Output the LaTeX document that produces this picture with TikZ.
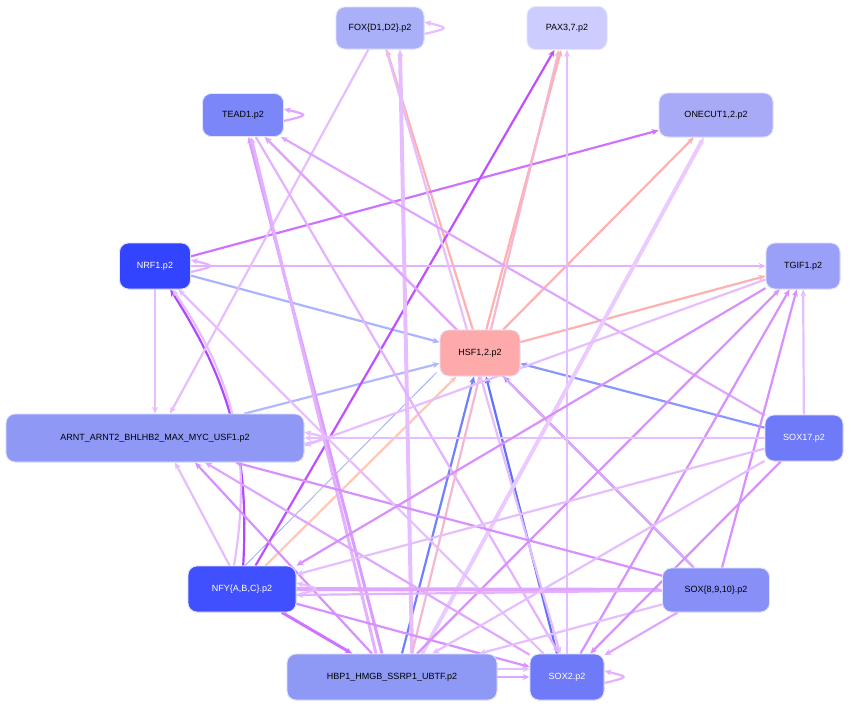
\documentclass[tikz,border=0pt]{standalone}
\usepackage{fontspec}
\setmainfont{Liberation Sans}
\usetikzlibrary{arrows.meta}
\definecolor{pk}{HTML}{FFB0B0}
\definecolor{lp}{HTML}{E6BEFF}
\definecolor{mp}{HTML}{D890FF}
\definecolor{sp}{HTML}{C050FF}
\definecolor{bA}{RGB}{170,180,255}
\definecolor{bB}{RGB}{176,184,255}
\definecolor{bC}{RGB}{255,200,180}
\definecolor{bD}{RGB}{112,128,255}
\definecolor{bE}{RGB}{96,112,255}
\definecolor{bF}{RGB}{138,150,255}
\definecolor{cfox}{RGB}{170,176,248}
\definecolor{cpax}{RGB}{204,204,255}
\definecolor{ctead}{RGB}{123,134,248}
\definecolor{cone}{RGB}{168,170,248}
\definecolor{cnrf}{RGB}{51,68,255}
\definecolor{ctgif}{RGB}{154,160,248}
\definecolor{chsf}{RGB}{255,170,170}
\definecolor{carnt}{RGB}{143,153,245}
\definecolor{cs}{RGB}{111,122,248}
\definecolor{cnfy}{RGB}{64,80,255}
\definecolor{cs89}{RGB}{136,144,248}
\definecolor{chbp}{RGB}{142,152,245}
\begin{document}
\begin{tikzpicture}[x=1pt,y=-1pt,
 n/.style={draw=blue!10,line width=0.8pt,rounded corners=9pt,minimum height=46pt,font=\fontsize{9}{10}\selectfont,inner sep=0pt},
 e/.style={line width=2.2pt,-{Stealth[length=7pt,width=6pt]}}]
\useasboundingbox (0,0) rectangle (851,707);
% edges drawn first (behind nodes) via coordinates of nodes defined later -> define nodes first in background trick: draw nodes, then edges, then redraw nodes
\begin{scope}
\node[n,fill=cfox,minimum width=88pt,minimum height=42pt] (fox) at (380,28) {FOX\{D1,D2\}.p2};
\node[n,fill=cpax,minimum width=80pt,minimum height=43pt] (pax) at (567,28) {PAX3,7.p2};
\node[n,fill=ctead,minimum width=81pt,minimum height=43pt] (tead) at (243,115) {TEAD1.p2};
\node[n,fill=cone,minimum width=114pt,minimum height=44pt] (one) at (716,115) {ONECUT1,2.p2};
\node[n,fill=cnrf,text=white,minimum width=71pt] (nrf) at (155,266) {NRF1.p2};
\node[n,fill=ctgif,minimum width=74pt] (tgif) at (803,266) {TGIF1.p2};
\node[n,fill=chsf,minimum width=80pt] (hsf) at (480,353) {HSF1,2.p2};
\node[n,fill=carnt,minimum width=298pt,minimum height=48pt] (arnt) at (155,438) {ARNT\_ARNT2\_BHLHB2\_MAX\_MYC\_USF1.p2};
\node[n,fill=cs,text=white,minimum width=78pt] (s17) at (804,438) {SOX17.p2};
\node[n,fill=cnfy,text=white,minimum width=108pt] (nfy) at (242,589) {NFY\{A,B,C\}.p2};
\node[n,fill=cs89,minimum width=107pt,minimum height=44pt] (s89) at (716,590) {SOX\{8,9,10\}.p2};
\node[n,fill=chbp,minimum width=210pt] (hbp) at (392,677) {HBP1\_HMGB\_SSRP1\_UBTF.p2};
\node[n,fill=cs,text=white,minimum width=74pt] (sox2) at (567,677) {SOX2.p2};
\end{scope}
% pink from HSF
\foreach \t in {fox,pax,tead,one,tgif}
  \draw[e,pk] (hsf) -- (\t);
% blue to HSF
\draw[e,bA] (nrf) -- (hsf);
\draw[e,bB] ([xshift=-60pt]arnt.north east) -- (hsf);
\draw[e,bC] (nfy) -- (hsf);
\draw[line width=1pt,bA] ([xshift=3pt]nfy.north) -- ([yshift=4pt,xshift=-3pt]hsf.south west);
\draw[e,bD] ([xshift=10pt]hbp.north) -- (hsf);
\draw[e,bE] ([xshift=-10pt]sox2.north) -- (hsf);
\draw[e,bD] (s89) -- (hsf);
\draw[e,bF] (s17) -- (hsf);
% strong purple
\draw[e,sp!80] (nrf) -- (one);
\draw[e,sp] (nfy) -- (pax);
\draw[e,sp!90!blue] (nfy) to[bend right=18] (nrf);
\draw[e,lp] ([xshift=-8pt]nfy.north) to[bend right=22] (nrf);
% light purple
\draw[e,mp!70] (nrf) -- (tgif);
\draw[e,lp] (nrf) -- (arnt);
\draw[e,lp] (fox) -- ([xshift=15pt]arnt.north);
\draw[e,lp] (fox) -- (sox2);
\draw[e,lp,line width=4pt] ([xshift=20pt]hbp.north) -- ([xshift=20pt]fox.south);
\draw[e,mp!80] (s17) -- (tead);
\draw[e,mp!80] (s89) -- (tead);
\draw[e,mp!90,line width=3pt] ([xshift=-10pt]hbp.north) -- (tead);
\draw[e,mp!70,line width=3pt] ([xshift=-16pt]hbp.north) -- ([xshift=8pt]tead.south);
\draw[e,mp!70] (tead) -- ([xshift=-8pt]sox2.north);
\draw[e,lp] (sox2) -- (pax);
\draw[e,pk!60!lp] ([xshift=20pt]hbp.north) -- ([xshift=-8pt]pax.south);
\draw[e,lp!80,line width=4pt] ([xshift=30pt]hbp.north) -- (one);
\draw[e,lp] (s17) -- (tgif);
\draw[e,mp] (s89) -- (tgif);
\draw[e,mp] (sox2) -- (tgif);
\draw[e,mp] ([xshift=25pt]hbp.north) -- (tgif);
\draw[e,lp] (tgif) -- ([yshift=-8pt]arnt.east);
\draw[e,lp] (s17) -- (arnt);
\draw[e,mp] (s89) -- ([xshift=80pt]arnt.south);
\draw[e,mp!80] (sox2) -- ([xshift=50pt]arnt.south);
\draw[e,lp] (nfy) -- ([xshift=20pt]arnt.south);
\draw[e,mp] ([xshift=-20pt]hbp.north) -- ([xshift=40pt]arnt.south);
\draw[e,lp] (sox2) -- (nrf);
\draw[e,mp!80,line width=4pt] (nfy) -- (s89);
\draw[e,mp!70] (s89) -- ([yshift=-6pt]nfy.east);
\draw[e,mp] (nfy) -- (sox2);
\draw[e,sp!80,line width=3pt] (nfy) -- (hbp);
\draw[e,mp!80] (s89) -- (sox2);
\draw[e,lp] (s89) -- (hbp);
\draw[e,lp] (s17) -- (nfy);
\draw[e,lp] (s17) -- (hbp);
\draw[e,mp] (s17) -- (sox2);
\draw[e,mp] (tgif) -- (nfy.north east);
\draw[e,mp!80] (hbp) -- (sox2);
\draw[e,lp] ([yshift=8pt]hbp.east) -- ([yshift=8pt]sox2.west);
% self loops
\foreach \m/\c in {fox/lp,tead/mp!80,nrf/mp!70,arnt/lp,sox2/mp!70,nfy/lp}
  \draw[e,\c] ([yshift=-6pt]\m.east) .. controls +(25,-6) and +(25,6) .. ([yshift=6pt]\m.east);
% redraw nodes on top
\foreach \m/\c/\t/\w/\h in {fox/cfox/{FOX\{D1,D2\}.p2}/88/42,pax/cpax/{PAX3,7.p2}/80/43,tead/ctead/{TEAD1.p2}/81/43,one/cone/{ONECUT1,2.p2}/114/44,tgif/ctgif/{TGIF1.p2}/74/46,hsf/chsf/{HSF1,2.p2}/80/46,arnt/carnt/{ARNT\_ARNT2\_BHLHB2\_MAX\_MYC\_USF1.p2}/298/48,s89/cs89/{SOX\{8,9,10\}.p2}/107/44,hbp/chbp/{HBP1\_HMGB\_SSRP1\_UBTF.p2}/210/46}
  \node[n,fill=\c,minimum width=\w pt,minimum height=\h pt] at (\m) {\t};
\foreach \m/\c/\t/\w in {nrf/cnrf/{NRF1.p2}/71,s17/cs/{SOX17.p2}/78,nfy/cnfy/{NFY\{A,B,C\}.p2}/108,sox2/cs/{SOX2.p2}/74}
  \node[n,fill=\c,text=white,minimum width=\w pt] at (\m) {\t};
\end{tikzpicture}
\end{document}
